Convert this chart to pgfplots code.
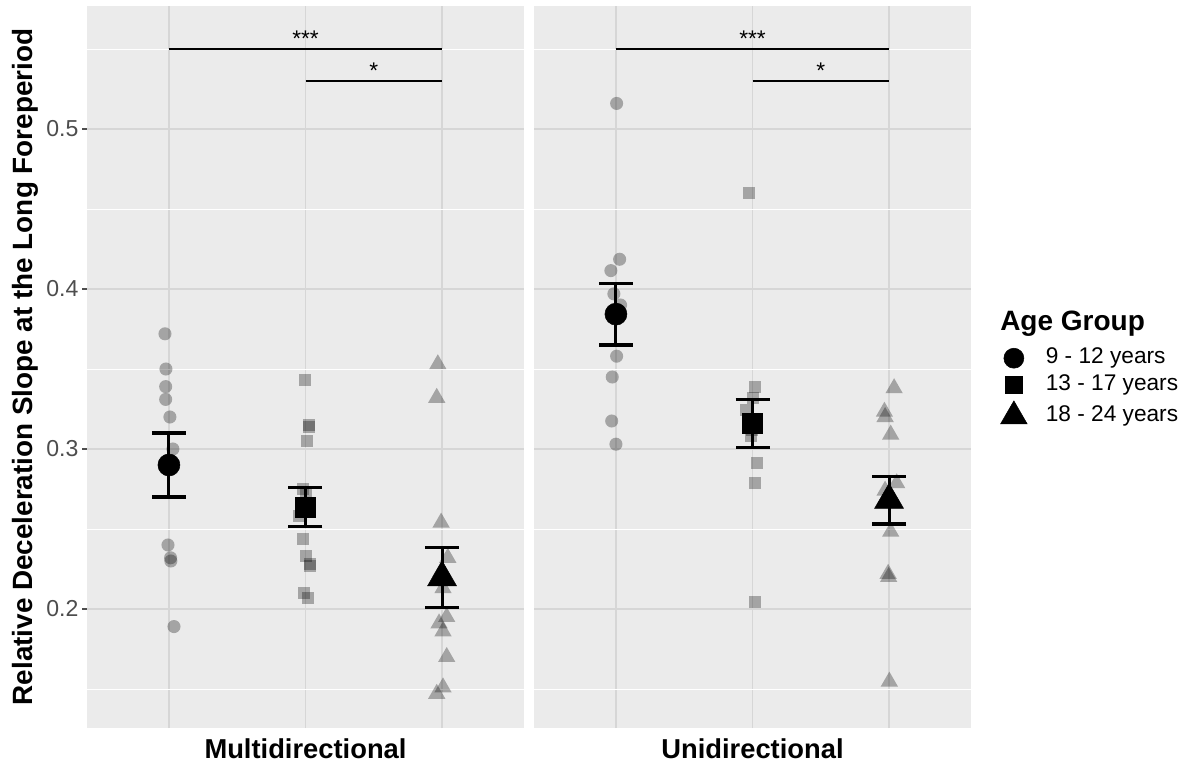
\documentclass[border=0pt]{standalone}
\usepackage{fontspec}
\setmainfont{Liberation Sans}
\usepackage{pgfplots}
\pgfplotsset{compat=1.18}
\definecolor{panelbg}{HTML}{EBEBEB}
\definecolor{gridmaj}{HTML}{D6D6D6}
\definecolor{tickcol}{HTML}{4D4D4D}

\pgfplotsset{
  panel/.style={
    scale only axis, width=327.75pt, height=541.5pt,
    xmin=0.4, xmax=3.6, ymin=0.1256, ymax=0.5769,
    axis background/.style={fill=panelbg},
    axis line style={draw=none},
    xtick={1,2,3}, xticklabels={},
    ytick={0.2,0.3,0.4,0.5},
    minor ytick={0.15,0.25,0.35,0.45,0.55},
    xmajorgrids, ymajorgrids, yminorgrids,
    major grid style={gridmaj, line width=1.1pt},
    minor grid style={white, line width=0.55pt},
    minor tick length=0pt,
    xtick style={draw=none},
    clip=false,
  },
  rawc/.style={only marks, mark=*, mark size=4.9pt, mark options={draw opacity=0, fill=black, fill opacity=0.3}},
  raws/.style={only marks, mark=square*, mark size=4.5pt, mark options={draw opacity=0, fill=black, fill opacity=0.3}},
  rawt/.style={only marks, mark=triangle*, mark size=7.5pt, mark options={draw opacity=0, fill=black, fill opacity=0.3}},
  meanbar/.style={only marks, black,
    error bars/y dir=both, error bars/y explicit,
    error bars/error bar style={line width=2.3pt, black},
    error bars/error mark options={rotate=90, line width=2.3pt, mark size=12.75pt, black}},
  sig/.style={black, line width=1pt, mark=none},
}

\begin{document}
\begin{tikzpicture}
\useasboundingbox (0,0) rectangle (892.5pt,-573.75pt);

% ---------- Panel 1: Multidirectional ----------
\begin{axis}[panel, at={(65.25pt,-4.5pt)}, anchor=north west,
  ytick pos=left, tick align=outside, major tick length=3.4pt,
  ytick style={tickcol, line width=0.8pt},
  yticklabel style={font=\fontsize{17.3}{17.3}\selectfont, text=tickcol, inner sep=2.8pt},
  /pgf/number format/assume math mode=true,
  yticklabel={\pgfmathprintnumber[fixed, fixed zerofill, precision=1]{\tick}},
]
\addplot[rawc] coordinates {
 (0.971,0.372) (0.978,0.350) (0.976,0.339) (0.976,0.331) (1.007,0.320)
 (1.029,0.300) (0.993,0.240) (1.012,0.232) (1.014,0.230) (1.037,0.189)
};
\addplot[raws] coordinates {
 (1.993,0.343) (2.022,0.315) (2.027,0.314) (2.008,0.305) (1.979,0.275)
 (2.003,0.273) (2.010,0.265) (1.952,0.258) (1.981,0.244) (2.003,0.233)
 (2.030,0.228) (2.034,0.227) (1.986,0.210) (2.018,0.207)
};
\addplot[rawt] coordinates {
 (2.969,0.353) (2.961,0.332) (2.993,0.254) (3.042,0.232) (3.007,0.213)
 (3.034,0.195) (2.978,0.191) (3.007,0.186) (3.034,0.170) (3.007,0.151)
 (2.961,0.147) (2.990,0.223)
};
\addplot[meanbar, mark=*, mark size=8.25pt] coordinates {(1,0.290) +- (0,0.0200)};
\addplot[meanbar, mark=square*, mark size=7.5pt] coordinates {(2,0.2638) +- (0,0.0123)};
\addplot[meanbar, mark=triangle*, mark size=12.5pt] coordinates {(3,0.2197) +- (0,0.0186)};
\addplot[sig] coordinates {(1,0.550) (3,0.550)};
\addplot[sig] coordinates {(2,0.530) (3,0.530)};
\node[anchor=base, font=\fontsize{17}{17}\selectfont, inner sep=0pt] at (axis cs:2,0.5515) {***};
\node[anchor=base, font=\fontsize{17}{17}\selectfont, inner sep=0pt] at (axis cs:2.5,0.5315) {*};
\node[anchor=base, font=\bfseries\fontsize{20.5}{20.5}\selectfont, inner sep=0pt] at (axis description cs:0.5,0) [yshift=-22.5pt] {Multidirectional};
\node[anchor=base, rotate=90, font=\bfseries\fontsize{20.9}{20.9}\selectfont, inner sep=0pt] at (axis description cs:-0.1236,0.5) {Relative Deceleration Slope at the Long Foreperiod};
\end{axis}

% ---------- Panel 2: Unidirectional ----------
\begin{axis}[panel, at={(400.5pt,-4.5pt)}, anchor=north west,
  yticklabels={}, major tick length=0pt, ytick style={draw=none},
  legend style={at={(axis description cs:1,0.472)}, anchor=west, xshift=22pt,
    draw=none, fill=none, inner sep=0pt,
    font=\fontsize{17}{17}\selectfont, row sep=4.0pt, column sep=0pt,
    nodes={inner sep=0pt, text height=12pt, text depth=4pt},
    /tikz/every odd column/.append style={column sep=14pt}},
  legend cell align=left,
]
\addplot[rawc, forget plot] coordinates {
 (1.005,0.516) (1.027,0.4186) (0.963,0.4115) (0.985,0.397) (1.034,0.390)
 (1.005,0.358) (0.973,0.345) (0.969,0.3175) (1.000,0.303)
};
\addplot[raws, forget plot] coordinates {
 (1.978,0.460) (2.015,0.339) (2.007,0.332) (1.954,0.3244) (2.000,0.318)
 (1.995,0.312) (1.990,0.308) (2.034,0.291) (2.020,0.2786) (2.020,0.2046)
};
\addplot[rawt, forget plot] coordinates {
 (3.037,0.338) (2.966,0.3233) (2.971,0.320) (3.012,0.309) (3.056,0.2786)
 (2.971,0.274) (3.012,0.2483) (2.993,0.222) (2.997,0.220) (3.002,0.1546)
};
\addplot[meanbar, mark=*, mark size=8.25pt, forget plot] coordinates {(1,0.3843) +- (0,0.0193)};
\addplot[meanbar, mark=square*, mark size=7.5pt, forget plot] coordinates {(2,0.3161) +- (0,0.0151)};
\addplot[meanbar, mark=triangle*, mark size=12.5pt, forget plot] coordinates {(3,0.2681) +- (0,0.0150)};
\addplot[sig, forget plot] coordinates {(1,0.550) (3,0.550)};
\addplot[sig, forget plot] coordinates {(2,0.530) (3,0.530)};
\addlegendimage{only marks, mark=*, mark size=7.5pt, black}
\addlegendentry{9 - 12 years}
\addlegendimage{only marks, mark=square*, mark size=6.4pt, black}
\addlegendentry{13 - 17 years}
\addlegendimage{only marks, mark=triangle*, mark size=11.5pt, black}
\addlegendentry{18 - 24 years}
\node[anchor=base, font=\fontsize{17}{17}\selectfont, inner sep=0pt] at (axis cs:2,0.5515) {***};
\node[anchor=base, font=\fontsize{17}{17}\selectfont, inner sep=0pt] at (axis cs:2.5,0.5315) {*};
\node[anchor=base, font=\bfseries\fontsize{20.5}{20.5}\selectfont, inner sep=0pt] at (axis description cs:0.5,0) [yshift=-22.5pt] {Unidirectional};
\node[anchor=base west, font=\bfseries\fontsize{21}{21}\selectfont, inner sep=0pt] at (axis description cs:1,1) [xshift=21.75pt, yshift=-243pt] {Age Group};
\end{axis}
\end{tikzpicture}
\end{document}
